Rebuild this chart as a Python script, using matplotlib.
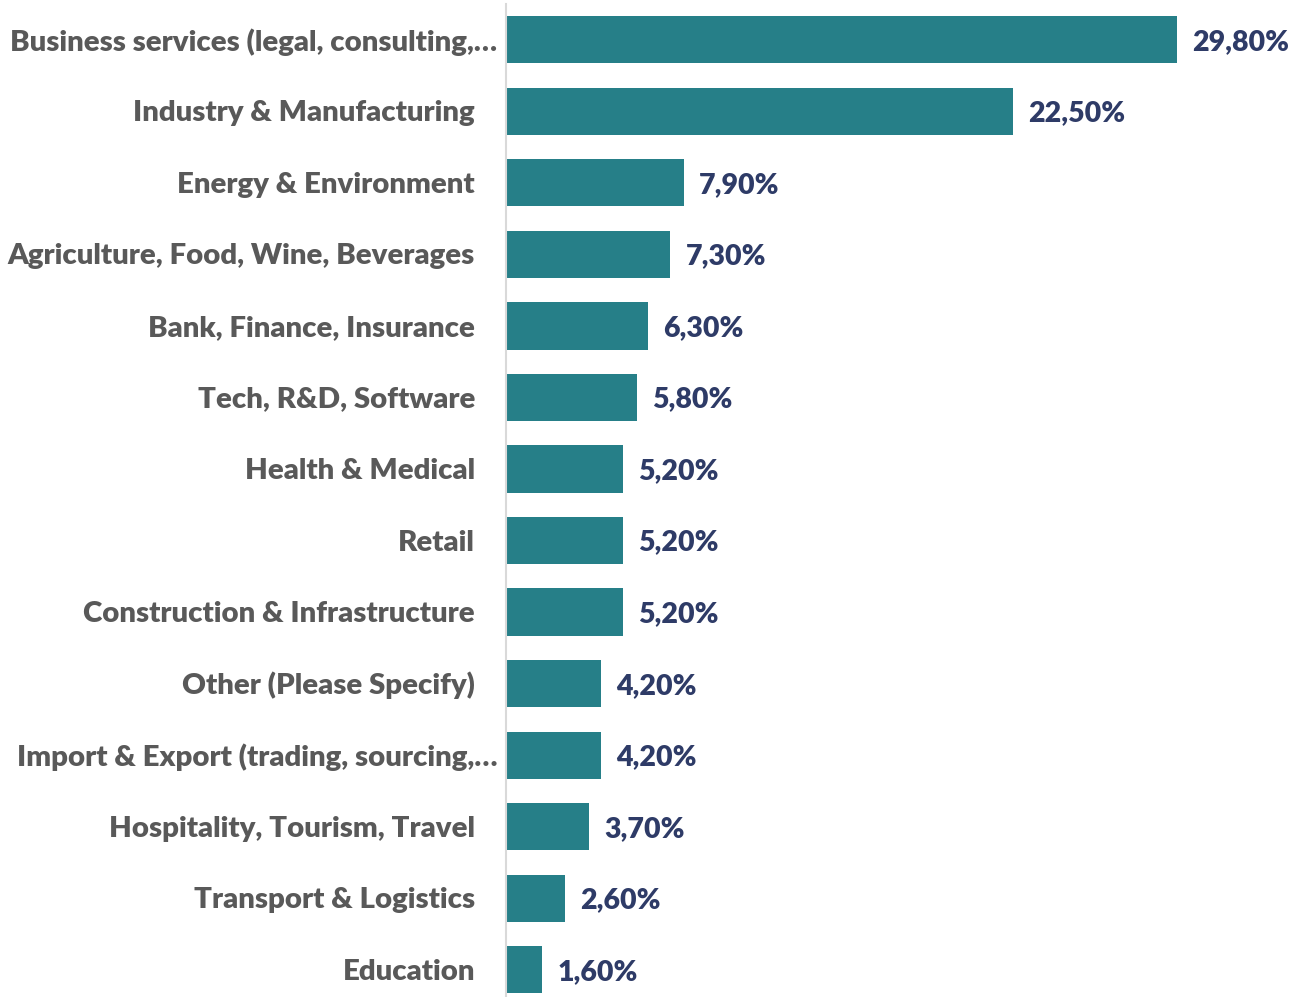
import matplotlib.pyplot as plt
from matplotlib import transforms

# data
categories = [
    "Business services (legal, consulting,\u2026",
    "Industry & Manufacturing",
    "Energy & Environment",
    "Agriculture, Food, Wine, Beverages",
    "Bank, Finance, Insurance",
    "Tech, R&D, Software",
    "Health & Medical",
    "Retail",
    "Construction & Infrastructure",
    "Other (Please Specify)",
    "Import & Export (trading, sourcing,\u2026",
    "Hospitality, Tourism, Travel",
    "Transport & Logistics",
    "Education",
]
values = [29.8, 22.5, 7.9, 7.3, 6.3, 5.8, 5.2, 5.2, 5.2, 4.2, 4.2, 3.7, 2.6, 1.6]
truncated = [True, False, False, False, False, False, False, False, False, False, True, False, False, False]

plt.rcParams['font.family'] = ['Lato', 'DejaVu Sans']

fig = plt.figure(figsize=(13.01, 9.97), dpi=100)
ax = fig.add_axes([0.389, 0.0, 0.611, 0.996])

y = list(range(len(categories)))
ax.barh(y, values, height=0.66, color='#267F88')

ax.set_xlim(0, 35.3)
ax.set_ylim(13.38, -0.5)

for s in ['top', 'right', 'bottom']:
    ax.spines[s].set_visible(False)
ax.spines['left'].set_color('#D9D9D9')
ax.spines['left'].set_linewidth(1.5)
ax.set_xticks([])
ax.set_yticks([])

# category labels
base = transforms.blended_transform_factory(ax.transAxes, ax.transData)
for i, (cat, tr) in enumerate(zip(categories, truncated)):
    off = -9 if tr else -31
    t = transforms.offset_copy(base, fig=fig, x=off, y=-2, units='dots')
    ax.text(0, i, cat, transform=t, ha='right', va='center',
            fontsize=21.2, fontweight='heavy', color='#595959')

# value labels
for i, v in enumerate(values):
    lab = f"{v:.2f}".replace('.', ',') + '%'
    ax.annotate(lab, (v, i), xytext=(15, -2), textcoords='offset pixels',
                ha='left', va='center', fontsize=20.5, fontweight='heavy',
                color='#2E3B67')

fig.savefig('out.png', dpi=100)
